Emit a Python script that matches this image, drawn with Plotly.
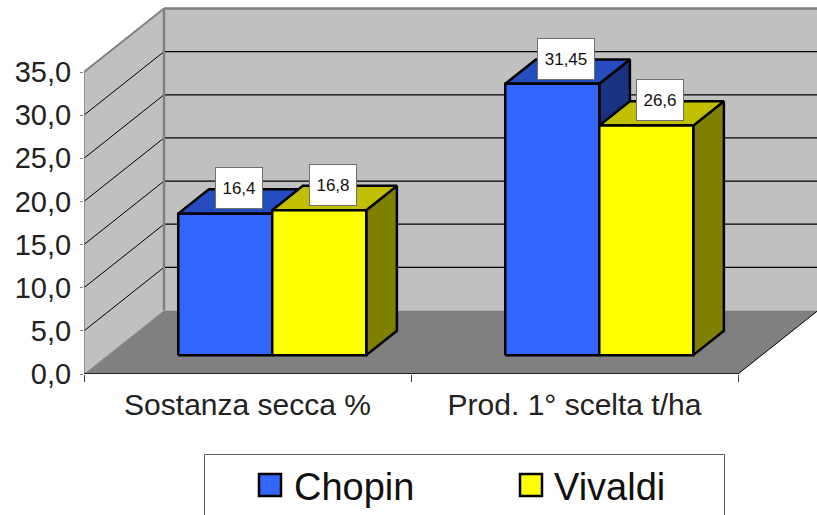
import plotly.graph_objects as go

categories = ["Sostanza secca %", "Prod. 1° scelta t/ha"]
series_names = ["Chopin", "Vivaldi"]
chopin = [16.4, 31.45]
vivaldi = [16.8, 26.6]
y_ticks = [0, 5, 10, 15, 20, 25, 30, 35]

W, H = 817, 515
L, B = 84, 141
PX_X = 327.0           # pixels per category
PX_Y = 302 / 35        # pixels per value unit
XMAX = (W - L) / PX_X
YMAX = (H - B) / PX_Y
DEPTH_X = 80 / PX_X
DEPTH_Y = 63.5 / PX_Y
BAR_W = 94 / PX_X
Z0, Z1 = 0.297, 0.68
FONT = "Liberation Sans"


def proj(x, y, z):
    return x + z * DEPTH_X, y + z * DEPTH_Y


def face(points, fill, line="#000000", width=2.5):
    pts = [proj(*p) for p in points]
    pts.append(pts[0])
    return go.Scatter(
        x=[p[0] for p in pts], y=[p[1] for p in pts], mode="lines",
        fill="toself", fillcolor=fill, showlegend=False, hoverinfo="skip",
        line=dict(color=line if line else fill, width=width if line else 0),
    )


def seg(a, b, color, width):
    p, q = proj(*a), proj(*b)
    return go.Scatter(x=[p[0], q[0]], y=[p[1], q[1]], mode="lines", showlegend=False,
                      hoverinfo="skip", line=dict(color=color, width=width))


fig = go.Figure()
top = y_ticks[-1]
# walls and floor
fig.add_trace(face([(0, 0, 0), (0, top, 0), (0, top, 1), (0, 0, 1)], "#C0C0C0", None))
fig.add_trace(face([(0, 0, 1), (0, top, 1), (2, top, 1), (2, 0, 1)], "#C0C0C0", None))
fig.add_trace(face([(0, 0, 0), (2, 0, 0), (2, 0, 1), (0, 0, 1)], "#808080", None))
for t in y_ticks[1:-1]:
    fig.add_trace(seg((0, t, 0), (0, t, 1), "#000000", 1))
    fig.add_trace(seg((0, t, 1), (2, t, 1), "#000000", 1.2))
fig.add_trace(seg((0, top, 0), (0, top, 1), "#808080", 2))
fig.add_trace(seg((0, top, 1), (2, top, 1), "#808080", 2.5))
fig.add_trace(seg((0, 0, 1), (0, top, 1), "#808080", 2.5))
fig.add_trace(seg((0, 0, 0), (0, 0, 1), "#A0A0A0", 1))
fig.add_trace(seg((2, 0, 0), (2, 0, 1), "#000000", 1))
fig.add_trace(seg((0, 0, 0), (0, top, 0), "#808080", 1.5))
fig.add_trace(seg((0, 0, 0), (2, 0, 0), "#000000", 1.5))

palette = [("#3366FF", "#264DBF", "#1A3380"), ("#FFFF00", "#C0C000", "#808000")]
annotations = []
for c in range(len(categories)):
    centre = c + 0.503
    for s, vals in enumerate([chopin, vivaldi]):
        v = vals[c]
        x0 = centre + (s - 1) * BAR_W
        x1 = x0 + BAR_W
        front, tp, side = palette[s]
        fig.add_trace(face([(x1, 0, Z0), (x1, 0, Z1), (x1, v, Z1), (x1, v, Z0)], side))
        fig.add_trace(face([(x0, v, Z0), (x1, v, Z0), (x1, v, Z1), (x0, v, Z1)], tp))
        fig.add_trace(face([(x0, 0, Z0), (x1, 0, Z0), (x1, v, Z0), (x0, v, Z0)], front))
        ax, ay = proj((x0 + x1) / 2, v, (Z0 + Z1) / 2)
        txt = str(v).replace(".", ",")
        annotations.append(dict(
            x=ax, y=ay, xref="x", yref="y", text=txt, showarrow=False, xshift=-2, yshift=13,
            width=46 if len(txt) < 5 else 56, height=40, bgcolor="#FFFFFF", bordercolor="#707070",
            borderwidth=1, borderpad=0, font=dict(family=FONT, size=17, color="#111111"),
        ))


def px(x):
    return (x - L) / (W - L)


def py(y):
    return 1 - y / (H - B)


# legend box, cut by the bottom of the picture
shapes = [
    dict(type="path", xref="paper", yref="paper", layer="above",
         path=f"M{px(204.5)},{py(516)}L{px(204.5)},{py(454.5)}L{px(724.5)},{py(454.5)}L{px(724.5)},{py(516)}",
         line=dict(color="#606060", width=1)),
]
for name, col, x0, tx in zip(series_names, palette, [259, 520], [292, 552]):
    shapes.append(dict(type="rect", xref="paper", yref="paper", layer="above",
                       x0=px(x0), x1=px(x0 + 22), y0=py(496), y1=py(474),
                       fillcolor=col[0], line=dict(color="#000000", width=2.5)))
    annotations.append(dict(x=px(tx), y=py(487), xref="paper", yref="paper", text=name,
                            showarrow=False, xanchor="left", yanchor="middle",
                            font=dict(family=FONT, size=38, color="#111111")))

fig.update_layout(
    width=W, height=H, autosize=False,
    margin=dict(l=L, r=0, t=0, b=B, pad=0),
    paper_bgcolor="#FFFFFF", plot_bgcolor="#FFFFFF",
    showlegend=False, separators=",.",
    font=dict(family=FONT, color="#111111"),
    annotations=annotations, shapes=shapes,
    xaxis=dict(range=[0, XMAX], showgrid=False, zeroline=False, showline=False,
               tickmode="array", tickvals=[0.5, 1.5], ticktext=categories, ticks="outside",
               ticklen=0, ticklabelstandoff=4, tickfont=dict(family=FONT, size=30, color="#222222"),
               minor=dict(tickmode="array", tickvals=[0, 1, 2], ticks="outside", ticklen=7,
                          tickcolor="#404040", tickwidth=1, showgrid=False)),
    yaxis=dict(range=[0, YMAX], showgrid=False, zeroline=False, showline=False,
               tickmode="array", tickvals=y_ticks, tickformat=".1f", ticks="outside", ticklen=3,
               tickcolor="#808080", tickwidth=1, ticklabelstandoff=3,
               tickfont=dict(family=FONT, size=29, color="#222222")),
)

fig.write_html("out.html", config={"displayModeBar": False},
               post_script="document.body.style.margin='0';document.body.style.overflow='hidden';")
